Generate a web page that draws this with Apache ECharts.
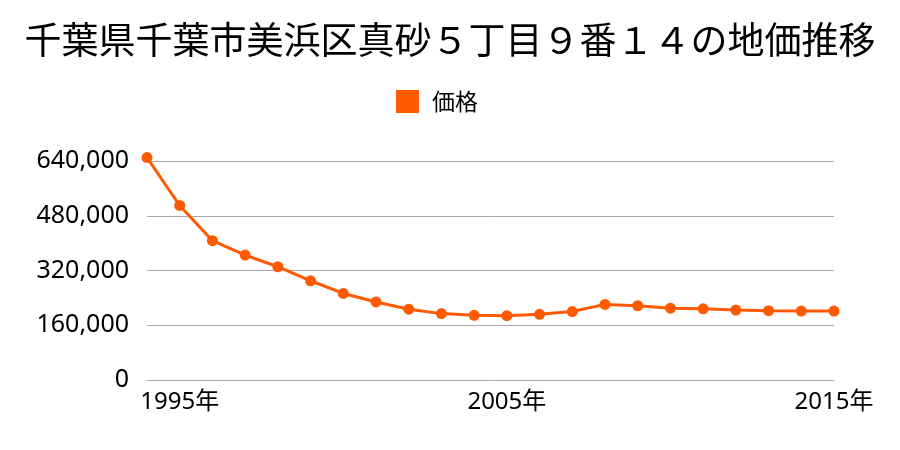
<!DOCTYPE html>
<html><head><meta charset="utf-8">
<script src="https://cdn.jsdelivr.net/npm/echarts@6/dist/echarts.min.js"></script>
<style>html,body{margin:0;padding:0;background:#fff}#c{width:900px;height:450px}</style>
</head><body><div id="c"></div>
<script>
const titleText = '千葉県千葉市美浜区真砂５丁目９番１４の地価推移';
const seriesName = '価格';
const years = ['1994','1995','1996','1997','1998','1999','2000','2001','2002','2003','2004','2005','2006','2007','2008','2009','2010','2011','2012','2013','2014','2015'];
const prices = [650000,510000,407000,365000,331000,290000,253000,228000,207000,194000,189000,188000,192000,200000,221000,217000,210000,208000,204500,202500,201500,201500];
const labeledYears = ['1995','2005','2015'];
const yTicks = [0,160000,320000,480000,640000];

const cjk = '"Noto Sans CJK JP", sans-serif';
const num = '"Noto Sans", "Noto Sans CJK JP", sans-serif';
const chart = echarts.init(document.getElementById('c'));
chart.setOption({
  animation: false,
  title: { text: titleText, left: 'center', top: 16, textStyle: { fontFamily: cjk, fontSize: 37, fontWeight: 'normal', color: '#000' } },
  legend: { data: [seriesName], top: 85, left: 391, icon: 'rect', itemWidth: 23, itemHeight: 23, itemGap: 10,
    textStyle: { fontFamily: cjk, fontSize: 23, color: '#000', padding: [0,0,0,8] } },
  grid: { left: 147, right: 66, top: 161, bottom: 70, containLabel: false },
  xAxis: { type: 'category', data: years, boundaryGap: false,
    axisLine: { lineStyle: { color: '#aaa', width: 1 } }, axisTick: { show: false },
    axisLabel: { interval: 0, fontFamily: num, fontSize: 24, color: '#000', margin: 10,
      formatter: v => labeledYears.includes(v) ? v + '年' : '' } },
  yAxis: { type: 'value', min: yTicks[0], max: yTicks[yTicks.length-1], interval: 160000,
    axisLine: { show: false }, axisTick: { show: false },
    splitLine: { lineStyle: { color: '#aaa', width: 1 } },
    axisLabel: { fontFamily: num, fontSize: 25, color: '#000', margin: 18,
      formatter: v => v.toLocaleString('en-US') } },
  series: [{ name: seriesName, type: 'line', data: prices, color: '#ff5a00', clip: false,
    symbol: 'circle', symbolSize: 11, lineStyle: { width: 3, color: '#ff5a00' },
    itemStyle: { color: '#ff5a00' } }]
});
</script></body></html>
